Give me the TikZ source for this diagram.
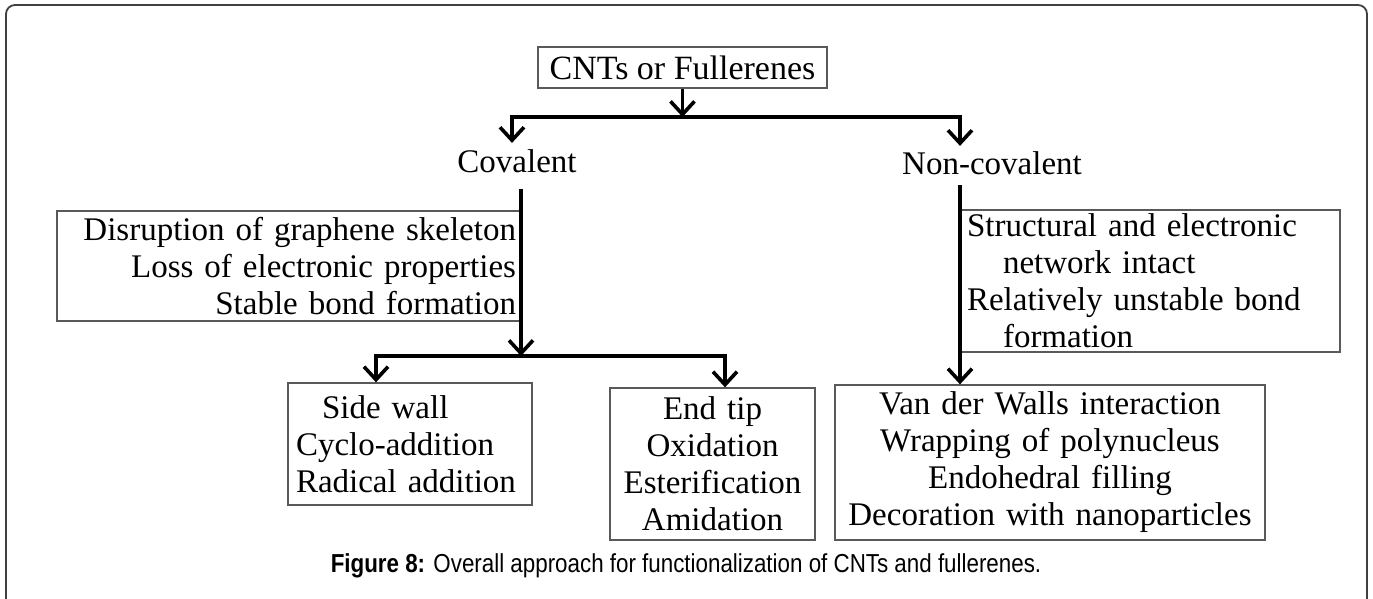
\documentclass[tikz,border=0pt]{standalone}
\usepackage{fontspec}
\setmainfont{Liberation Serif}
\newfontfamily\capfont[FakeStretch=0.86]{Liberation Sans}
\usetikzlibrary{arrows.meta}

\begin{document}
\begin{tikzpicture}[x=1pt,y=-1pt]

	\tikzstyle box lines=[draw=black!65, line width=1.3pt, inner sep=0pt, font=\fontsize{33}{37}\selectfont];
	\tikzstyle label text=[inner sep=6pt, font=\fontsize{33}{38}\selectfont];
	\tikzstyle tree lines=[line width=3.6pt, line join=miter];
	\tikzstyle tree arrows=[tree lines, -{Straight Barb[length=13pt,width=24pt]}];

	\useasboundingbox (0,0) rectangle (1373,599);
	\draw[black!75, line width=1.8pt, rounded corners=9pt] (6,599) -- (6,5) -- (1367,5) -- (1367,599);

	% top of the tree
	\node[box lines, minimum width=289pt, minimum height=41pt, font=\fontsize{34}{38}\selectfont] (root) at (682.5,67.5) {CNTs or Fullerenes};
	\node[label text, anchor=base] (cov) at (517,172) {Covalent};
	\node[label text, anchor=base] (noncov) at (992,175) {Non-covalent};

	\coordinate (split) at (682.5,117);
	\coordinate (splitL) at (512,117);
	\coordinate (splitR) at (960,117);
	\draw[tree arrows] (root) -- (split);
	\draw[tree lines, {Straight Barb[length=13pt,width=24pt]}-{Straight Barb[length=13pt,width=24pt]}]
		(splitL |- cov.north) -- (splitL) -- (splitR) -- (splitR |- noncov.north);

	% property boxes
	\node[box lines, text width=455pt, inner xsep=4pt, align=right, minimum height=110pt] (covprops) at (288.5,266)
		{Disruption of graphene skeleton\\Loss of electronic properties\\Stable bond formation};
	\node[box lines, text width=367pt, inner xsep=6pt, align=left, minimum height=142pt] (ncovprops) at (1150.5,281)
		{Structural and electronic\\\hspace*{36pt}network intact\\Relatively unstable bond\\\hspace*{36pt}formation};

	% bottom boxes
	\node[box lines, text width=228pt, inner xsep=8pt, align=left, minimum height=122pt] (sidewall) at (410,444)
		{\hspace*{26pt}Side wall\\Cyclo-addition\\Radical addition};
	\node[box lines, text width=195pt, inner xsep=5pt, align=center, minimum height=152pt] (endtip) at (712.5,464)
		{End tip\\Oxidation\\Esterification\\Amidation};
	\node[box lines, text width=420pt, inner xsep=5pt, align=center, minimum height=155pt] (vdw) at (1050,462.5)
		{Van der Walls interaction\\Wrapping of polynucleus\\Endohedral filling\\Decoration with nanoparticles};

	\coordinate (covtop) at (521,189);
	\coordinate (covsplit) at (521,356);
	\coordinate (covL) at (376,356);
	\coordinate (covR) at (725,356);
	\draw[tree arrows] (covtop) -- (covsplit);
	\draw[tree lines, {Straight Barb[length=13pt,width=24pt]}-{Straight Barb[length=13pt,width=24pt]}]
		(covL |- sidewall.north) -- (covL) -- (covR) -- (covR |- endtip.north);

	\coordinate (ncovtop) at (960,185);
	\draw[tree arrows] (ncovtop) -- (ncovtop |- vdw.north);

	\node[font=\capfont\fontsize{26}{30}\selectfont] (caption) at (686,566)
		{\textbf{Figure 8:} Overall approach for functionalization of CNTs and fullerenes.};

\end{tikzpicture}
\end{document}
